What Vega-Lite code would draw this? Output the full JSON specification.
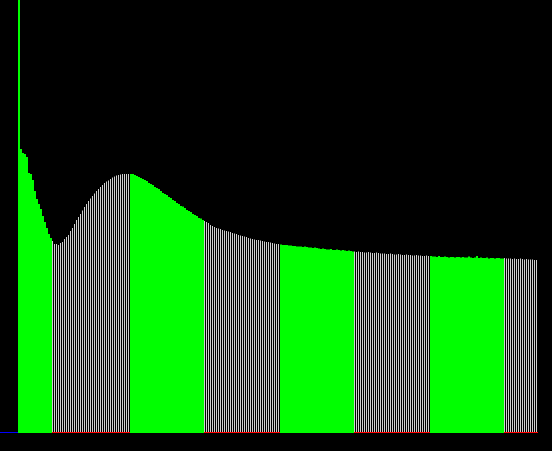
{
"$schema":"https://vega.github.io/schema/vega-lite/v6.json",
"width":520,"height":433,
"autosize":"none",
"padding":{"left":18,"top":0,"right":14,"bottom":18},
"background":"#000000",
"config":{"view":{"stroke":null}},
"data":{"values":[
{"i":0,"v":433,"s":"g"},{"i":1,"v":284,"s":"g"},{"i":2,"v":280,"s":"g"},{"i":3,"v":279,"s":"g"},{"i":4,"v":276,"s":"g"},{"i":5,"v":260,"s":"g"},{"i":6,"v":259,"s":"g"},{"i":7,"v":253,"s":"g"},{"i":8,"v":242,"s":"g"},{"i":9,"v":234,"s":"g"},
{"i":10,"v":229,"s":"g"},{"i":11,"v":224,"s":"g"},{"i":12,"v":217,"s":"g"},{"i":13,"v":211,"s":"g"},{"i":14,"v":205,"s":"g"},{"i":15,"v":199,"s":"g"},{"i":16,"v":195,"s":"g"},{"i":17,"v":192,"s":"w"},{"i":18,"v":189,"s":"w"},{"i":19,"v":189,"s":"w"},
{"i":20,"v":188,"s":"w"},{"i":21,"v":190,"s":"w"},{"i":22,"v":191,"s":"w"},{"i":23,"v":194,"s":"w"},{"i":24,"v":196,"s":"w"},{"i":25,"v":198,"s":"w"},{"i":26,"v":202,"s":"w"},{"i":27,"v":205,"s":"w"},{"i":28,"v":209,"s":"w"},{"i":29,"v":213,"s":"w"},
{"i":30,"v":216,"s":"w"},{"i":31,"v":219,"s":"w"},{"i":32,"v":222.5,"s":"w"},{"i":33,"v":226,"s":"w"},{"i":34,"v":229,"s":"w"},{"i":35,"v":232,"s":"w"},{"i":36,"v":234.5,"s":"w"},{"i":37,"v":237,"s":"w"},{"i":38,"v":239.5,"s":"w"},{"i":39,"v":242,"s":"w"},
{"i":40,"v":244,"s":"w"},{"i":41,"v":246,"s":"w"},{"i":42,"v":248,"s":"w"},{"i":43,"v":250,"s":"w"},{"i":44,"v":251.5,"s":"w"},{"i":45,"v":252.5,"s":"w"},{"i":46,"v":254,"s":"w"},{"i":47,"v":255.5,"s":"w"},{"i":48,"v":256.5,"s":"w"},{"i":49,"v":257.5,"s":"w"},
{"i":50,"v":258,"s":"w"},{"i":51,"v":258.5,"s":"w"},{"i":52,"v":259,"s":"w"},{"i":53,"v":259,"s":"w"},{"i":54,"v":259,"s":"w"},{"i":55,"v":259,"s":"w"},{"i":56,"v":259,"s":"g"},{"i":57,"v":259,"s":"g"},{"i":58,"v":258,"s":"g"},{"i":59,"v":257,"s":"g"},
{"i":60,"v":256,"s":"g"},{"i":61,"v":255,"s":"g"},{"i":62,"v":254,"s":"g"},{"i":63,"v":253,"s":"g"},{"i":64,"v":252,"s":"g"},{"i":65,"v":250,"s":"g"},{"i":66,"v":249,"s":"g"},{"i":67,"v":248,"s":"g"},{"i":68,"v":246,"s":"g"},{"i":69,"v":245,"s":"g"},
{"i":70,"v":244,"s":"g"},{"i":71,"v":242,"s":"g"},{"i":72,"v":240,"s":"g"},{"i":73,"v":239,"s":"g"},{"i":74,"v":238,"s":"g"},{"i":75,"v":236,"s":"g"},{"i":76,"v":235,"s":"g"},{"i":77,"v":233,"s":"g"},{"i":78,"v":232,"s":"g"},{"i":79,"v":230,"s":"g"},
{"i":80,"v":229,"s":"g"},{"i":81,"v":227,"s":"g"},{"i":82,"v":226.5,"s":"g"},{"i":83,"v":225,"s":"g"},{"i":84,"v":223,"s":"g"},{"i":85,"v":222,"s":"g"},{"i":86,"v":221,"s":"g"},{"i":87,"v":219,"s":"g"},{"i":88,"v":218,"s":"g"},{"i":89,"v":217,"s":"g"},
{"i":90,"v":215,"s":"g"},{"i":91,"v":214.5,"s":"g"},{"i":92,"v":213,"s":"g"},{"i":93,"v":212,"s":"w"},{"i":94,"v":211,"s":"w"},{"i":95,"v":210,"s":"w"},{"i":96,"v":208,"s":"w"},{"i":97,"v":207,"s":"w"},{"i":98,"v":206,"s":"w"},{"i":99,"v":205,"s":"w"},
{"i":100,"v":204.5,"s":"w"},{"i":101,"v":204,"s":"w"},{"i":102,"v":203,"s":"w"},{"i":103,"v":202.5,"s":"w"},{"i":104,"v":202,"s":"w"},{"i":105,"v":201.5,"s":"w"},{"i":106,"v":201,"s":"w"},{"i":107,"v":200,"s":"w"},{"i":108,"v":199.5,"s":"w"},{"i":109,"v":199,"s":"w"},
{"i":110,"v":198,"s":"w"},{"i":111,"v":197.5,"s":"w"},{"i":112,"v":197,"s":"w"},{"i":113,"v":196.5,"s":"w"},{"i":114,"v":196,"s":"w"},{"i":115,"v":195,"s":"w"},{"i":116,"v":194.5,"s":"w"},{"i":117,"v":194,"s":"w"},{"i":118,"v":193.5,"s":"w"},{"i":119,"v":193,"s":"w"},
{"i":120,"v":193,"s":"w"},{"i":121,"v":192.5,"s":"w"},{"i":122,"v":192,"s":"w"},{"i":123,"v":191.5,"s":"w"},{"i":124,"v":191,"s":"w"},{"i":125,"v":191,"s":"w"},{"i":126,"v":190.5,"s":"w"},{"i":127,"v":190,"s":"w"},{"i":128,"v":189.5,"s":"w"},{"i":129,"v":189,"s":"w"},
{"i":130,"v":189,"s":"w"},{"i":131,"v":188.5,"s":"g"},{"i":132,"v":188,"s":"g"},{"i":133,"v":188,"s":"g"},{"i":134,"v":188,"s":"g"},{"i":135,"v":187.5,"s":"g"},{"i":136,"v":187.5,"s":"g"},{"i":137,"v":187,"s":"g"},{"i":138,"v":187,"s":"g"},{"i":139,"v":186.5,"s":"g"},
{"i":140,"v":186.5,"s":"g"},{"i":141,"v":186.5,"s":"g"},{"i":142,"v":186,"s":"g"},{"i":143,"v":186.5,"s":"g"},{"i":144,"v":186,"s":"g"},{"i":145,"v":185.5,"s":"g"},{"i":146,"v":185.5,"s":"g"},{"i":147,"v":185,"s":"g"},{"i":148,"v":185.5,"s":"g"},{"i":149,"v":185,"s":"g"},
{"i":150,"v":184.5,"s":"g"},{"i":151,"v":184,"s":"g"},{"i":152,"v":184.5,"s":"g"},{"i":153,"v":184,"s":"g"},{"i":154,"v":183.5,"s":"g"},{"i":155,"v":183.5,"s":"g"},{"i":156,"v":184,"s":"g"},{"i":157,"v":183,"s":"g"},{"i":158,"v":183,"s":"g"},{"i":159,"v":183.5,"s":"g"},
{"i":160,"v":183,"s":"g"},{"i":161,"v":182.5,"s":"g"},{"i":162,"v":183,"s":"g"},{"i":163,"v":182.5,"s":"g"},{"i":164,"v":182,"s":"g"},{"i":165,"v":182.5,"s":"g"},{"i":166,"v":182,"s":"g"},{"i":167,"v":181.5,"s":"g"},{"i":168,"v":181.5,"s":"w"},{"i":169,"v":181,"s":"w"},
{"i":170,"v":181.5,"s":"w"},{"i":171,"v":181,"s":"w"},{"i":172,"v":181,"s":"w"},{"i":173,"v":180.5,"s":"w"},{"i":174,"v":180.5,"s":"w"},{"i":175,"v":181,"s":"w"},{"i":176,"v":180.5,"s":"w"},{"i":177,"v":180,"s":"w"},{"i":178,"v":180,"s":"w"},{"i":179,"v":180.5,"s":"w"},
{"i":180,"v":180,"s":"w"},{"i":181,"v":179.5,"s":"w"},{"i":182,"v":179.5,"s":"w"},{"i":183,"v":179.5,"s":"w"},{"i":184,"v":179,"s":"w"},{"i":185,"v":179,"s":"w"},{"i":186,"v":179.5,"s":"w"},{"i":187,"v":179,"s":"w"},{"i":188,"v":178.5,"s":"w"},{"i":189,"v":178.5,"s":"w"},
{"i":190,"v":179,"s":"w"},{"i":191,"v":178.5,"s":"w"},{"i":192,"v":178,"s":"w"},{"i":193,"v":178,"s":"w"},{"i":194,"v":178.5,"s":"w"},{"i":195,"v":178,"s":"w"},{"i":196,"v":178,"s":"w"},{"i":197,"v":177.5,"s":"w"},{"i":198,"v":177.5,"s":"w"},{"i":199,"v":178,"s":"w"},
{"i":200,"v":177.5,"s":"w"},{"i":201,"v":177.5,"s":"w"},{"i":202,"v":177,"s":"w"},{"i":203,"v":177,"s":"w"},{"i":204,"v":177.5,"s":"w"},{"i":205,"v":177,"s":"w"},{"i":206,"v":177,"s":"g"},{"i":207,"v":176.5,"s":"g"},{"i":208,"v":176.5,"s":"g"},{"i":209,"v":176,"s":"g"},
{"i":210,"v":177,"s":"g"},{"i":211,"v":176,"s":"g"},{"i":212,"v":176,"s":"g"},{"i":213,"v":176.5,"s":"g"},{"i":214,"v":176,"s":"g"},{"i":215,"v":175.5,"s":"g"},{"i":216,"v":176,"s":"g"},{"i":217,"v":176,"s":"g"},{"i":218,"v":175.5,"s":"g"},{"i":219,"v":176,"s":"g"},
{"i":220,"v":176,"s":"g"},{"i":221,"v":175.5,"s":"g"},{"i":222,"v":176,"s":"g"},{"i":223,"v":175.5,"s":"g"},{"i":224,"v":175.5,"s":"g"},{"i":225,"v":176.5,"s":"g"},{"i":226,"v":175.5,"s":"g"},{"i":227,"v":175,"s":"g"},{"i":228,"v":175.5,"s":"g"},{"i":229,"v":177,"s":"g"},
{"i":230,"v":175,"s":"g"},{"i":231,"v":175.5,"s":"g"},{"i":232,"v":175,"s":"g"},{"i":233,"v":175,"s":"g"},{"i":234,"v":175.5,"s":"g"},{"i":235,"v":174.5,"s":"g"},{"i":236,"v":175,"s":"g"},{"i":237,"v":175,"s":"g"},{"i":238,"v":174.5,"s":"g"},{"i":239,"v":175,"s":"g"},
{"i":240,"v":175,"s":"g"},{"i":241,"v":174.5,"s":"g"},{"i":242,"v":174.5,"s":"g"},{"i":243,"v":175,"s":"w"},{"i":244,"v":174.5,"s":"w"},{"i":245,"v":174.5,"s":"w"},{"i":246,"v":174.5,"s":"w"},{"i":247,"v":174,"s":"w"},{"i":248,"v":174.5,"s":"w"},{"i":249,"v":174,"s":"w"},
{"i":250,"v":174,"s":"w"},{"i":251,"v":174.5,"s":"w"},{"i":252,"v":174,"s":"w"},{"i":253,"v":173.5,"s":"w"},{"i":254,"v":174,"s":"w"},{"i":255,"v":173.5,"s":"w"},{"i":256,"v":173.5,"s":"w"},{"i":257,"v":173.5,"s":"w"},{"i":258,"v":173,"s":"w"},{"i":259,"v":173,"s":"w"}
]},
"encoding":{
"x":{"field":"i","type":"quantitative","scale":{"domain":[-0.25,259.75],"nice":false,"zero":false,"padding":0},"axis":null}
},
"layer":[
{"transform":[{"filter":"datum.s == 'g'"}],
 "mark":{"type":"bar","width":2,"xOffset":0.5,"color":"#00ff00"},
 "encoding":{"y":{"field":"v","type":"quantitative","scale":{"domain":[0,433],"nice":false},"axis":null}}},
{"transform":[{"filter":"datum.s == 'w'"}],
 "mark":{"type":"bar","width":1,"color":"#cfcfcf"},
 "encoding":{"y":{"field":"v","type":"quantitative","axis":null}}},
{"transform":[{"filter":"datum.s == 'w'"}],
 "mark":{"type":"bar","width":2,"xOffset":0.5,"color":"#ff0000"},
 "encoding":{"y":{"datum":1,"type":"quantitative"},"y2":{"datum":0}}},
{"data":{"values":[{"a":-9.25,"b":-0.25,"c":0.5}]},
 "mark":{"type":"rule","color":"#0000ff","strokeWidth":1},
 "encoding":{"x":{"field":"a","type":"quantitative"},"x2":{"field":"b"},"y":{"field":"c","type":"quantitative"}}}
]
}
